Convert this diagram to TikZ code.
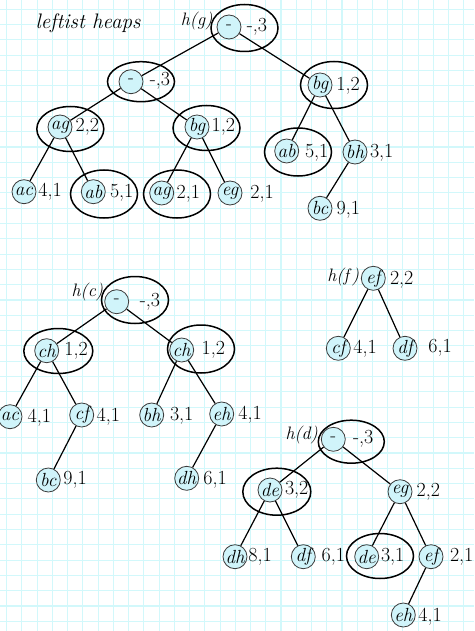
\documentclass[tikz,border=0pt]{standalone}
\usetikzlibrary{shapes.geometric}
\definecolor{gridcyan}{RGB}{210,248,251}
\definecolor{keyfill}{RGB}{208,244,250}
\definecolor{keyline}{RGB}{60,60,60}
\begin{document}
\begin{tikzpicture}[x=1pt,y=-1pt,
  key/.style={circle,draw=keyline,line width=0.8pt,fill=keyfill,minimum size=24pt,inner sep=0.2pt,font=\fontsize{19}{21}\selectfont\itshape},
  val/.style={inner sep=0pt,font=\fontsize{20}{22}\selectfont},
  heapname/.style={inner sep=0pt,font=\fontsize{18}{20}\selectfont\itshape},
  grp/.style={ellipse,draw=black,line width=1.5pt,minimum width=67pt,minimum height=46pt,inner sep=0pt},
  edge/.style={line width=1.2pt,black},
  gridline/.style={gridcyan,line width=1.1pt}]
\useasboundingbox (0,0) rectangle (474,631);
\fill[white] (0,0) rectangle (474,631);
% squared paper
\foreach \i in {0,...,30} \draw[gridline] ({6.7+\i*15.24},0) -- ({6.7+\i*15.24},631);
\foreach \j in {0,...,40} \draw[gridline] (0,{9.3+\j*15.3}) -- (474,{9.3+\j*15.3});

\node[heapname,font=\fontsize{21}{24}\selectfont\itshape] (title) at (88,23) {leftist heaps};

% ---- heap h(g)
\node[key] (g0) at (229,27) {\upshape -};
\node[key] (g1) at (131,81.7) {\upshape -};
\node[key] (g2) at (320,85) {bg};
\node[key] (g3) at (60,127) {ag};
\node[key] (g4) at (197,127) {bg};
\node[key] (g5) at (24,191.7) {ac};
\node[key] (g6) at (93.3,191.7) {ab};
\node[key] (g7) at (161.7,193) {ag};
\node[key] (g8) at (230,193) {eg};
\node[key] (g9) at (286.7,151) {ab};
\node[key] (g10) at (355,152) {bh};
\node[key] (g11) at (320,208.3) {bc};
\node[heapname] (hg) at (196.7,21) {h(g)};
\node[val] (vg0) at (257,27) {-,3};
\node[val] (vg1) at (160,81) {-,3};
\node[val] (vg2) at (348,86) {1,2};
\node[val] (vg3) at (87.3,127) {2,2};
\node[val] (vg4) at (223.3,127) {1,2};
\node[val] (vg5) at (50,191.7) {4,1};
\node[val] (vg6) at (121.7,193) {5,1};
\node[val] (vg7) at (188.3,194) {2,1};
\node[val] (vg8) at (262,194) {2,1};
\node[val] (vg9) at (316.7,153) {5,1};
\node[val] (vg10) at (381.7,153) {3,1};
\node[val] (vg11) at (348.3,210) {9,1};

% ---- heap h(c)
\node[key] (c0) at (116.7,301.7) {\upshape -};
\node[key] (c1) at (46.7,350.7) {ch};
\node[key] (c2) at (181.7,350) {ch};
\node[key] (c3) at (10,416.7) {ac};
\node[key] (c4) at (81.7,415) {cf};
\node[key] (c5) at (151.7,415) {bh};
\node[key] (c6) at (221.7,414) {eh};
\node[key] (c7) at (48.3,480) {bc};
\node[key] (c8) at (186.7,478.3) {dh};
\node[heapname] (hc) at (87.3,291.7) {h(c)};
\node[val] (vc0) at (150,301.7) {-,3};
\node[val] (vc1) at (76,350.7) {1,2};
\node[val] (vc2) at (213.3,350) {1,2};
\node[val] (vc3) at (39.3,418) {4,1};
\node[val] (vc4) at (108.3,416.7) {4,1};
\node[val] (vc5) at (181.7,416) {3,1};
\node[val] (vc6) at (250,415) {4,1};
\node[val] (vc7) at (75,480) {9,1};
\node[val] (vc8) at (215,480) {6,1};

% ---- heap h(f)
\node[key] (f0) at (373.3,278.3) {ef};
\node[key] (f1) at (338.3,348.3) {cf};
\node[key] (f2) at (405,348.3) {df};
\node[heapname] (hf) at (343.3,276.7) {h(f\,)};
\node[val] (vf0) at (401.7,280) {2,2};
\node[val] (vf1) at (365,348.3) {4,1};
\node[val] (vf2) at (440,348.3) {6,1};

% ---- heap h(d)
\node[key] (d0) at (333.3,439.3) {\upshape -};
\node[key] (d1) at (270,490) {de};
\node[key] (d2) at (400,491.7) {eg};
\node[key] (d3) at (235,556.7) {dh};
\node[key] (d4) at (303.3,556.7) {df};
\node[key] (d5) at (366.7,556.7) {de};
\node[key] (d6) at (431,556.7) {ef};
\node[key] (d7) at (403.3,615) {eh};
\node[heapname] (hd) at (301.7,435) {h(d)};
\node[val] (vd0) at (363.3,439.3) {-,3};
\node[val] (vd1) at (296.7,490) {3,2};
\node[val] (vd2) at (428.3,491.7) {2,2};
\node[val] (vd3) at (260,557.3) {8,1};
\node[val] (vd4) at (333.3,557.3) {6,1};
\node[val] (vd5) at (392.7,557.3) {3,1};
\node[val] (vd6) at (461.7,557.3) {2,1};
\node[val] (vd7) at (430,616.7) {4,1};

% tree edges
\foreach \a/\b in {g0/g1,g0/g2,g1/g3,g1/g4,g3/g5,g3/g6,g4/g7,g4/g8,g2/g9,g2/g10,g10/g11,
                   c0/c1,c0/c2,c1/c3,c1/c4,c4/c7,c2/c5,c2/c6,c6/c8,
                   f0/f1,f0/f2,
                   d0/d1,d0/d2,d1/d3,d1/d4,d2/d5,d2/d6,d6/d7}
  \draw[edge] (\a) -- (\b);

% grouping ellipses
\node[grp,minimum height=47pt] (eg0) at (244.5,28) {};
\node[grp,minimum height=40pt] (eg1) at (141,81.7) {};
\node[grp,minimum height=47pt] (eg2) at (334,85) {};
\node[grp,minimum height=45pt] (eg3) at (70.3,129) {};
\node[grp,minimum height=45pt] (eg4) at (206.5,128) {};
\node[grp,minimum height=48pt] (eg6) at (104,194) {};
\node[grp,minimum height=48pt] (eg7) at (177,194) {};
\node[grp,minimum height=48pt] (eg9) at (298,152) {};
\node[grp,minimum height=47pt] (ec0) at (135,300) {};
\node[grp,minimum height=45pt,minimum width=69pt] (ec1) at (58.3,351) {};
\node[grp,minimum height=48pt] (ec2) at (201,349) {};
\node[grp,minimum height=43pt,minimum width=66pt] (ed0) at (351.3,441.7) {};
\node[grp,minimum height=47pt,minimum width=68pt] (ed1) at (276.8,491.7) {};
\node[grp,minimum height=45pt] (ed5) at (380,556) {};
\end{tikzpicture}
\end{document}
